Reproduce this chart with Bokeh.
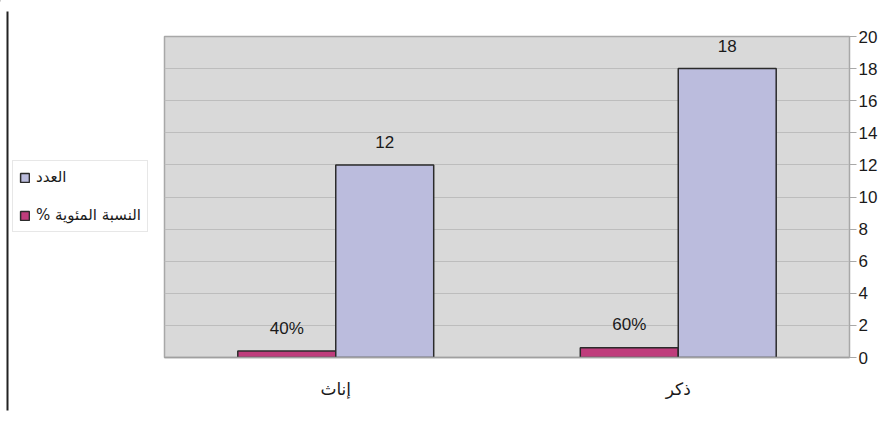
from bokeh.plotting import figure
from bokeh.layouts import row
from bokeh.models import (ColumnDataSource, Legend, LegendItem, LinearAxis,
                          FixedTicker)
from bokeh.transform import dodge
from bokeh.core.properties import value
from bokeh.embed import file_html
from bokeh.resources import INLINE

# Data
categories = ["إناث", "ذكر"]
counts = [12, 18]
percents = [40, 60]
count_name = "العدد"
percent_name = "% النسبة المئوية"
y_ticks = [0, 2, 4, 6, 8, 10, 12, 14, 16, 18, 20]

pct_values = [v / 100 for v in percents]
source = ColumnDataSource(dict(
    cat=categories,
    count=counts,
    pct=pct_values,
    count_label=[str(v) for v in counts],
    pct_label=[f"{v}%" for v in percents],
))

PINK = "#BF3D7C"
LAVENDER = "#BBBCDD"
BAR_W = 0.286
LEFT_W = 162

# ---- main chart ----
p = figure(width=892 - LEFT_W, height=424, x_range=categories, y_range=(0, 20),
           output_backend="svg", toolbar_location=None, y_axis_location=None,
           title=None)
p.frame_align = False
p.min_border_left = 2
p.min_border_right = 43
p.min_border_top = 36
p.min_border_bottom = 67
p.background_fill_color = "#D9D9D9"
p.border_fill_color = "white"
p.outline_line_color = "#A8A8A8"
p.outline_line_width = 1.5

pct_r = p.vbar(x=dodge("cat", -BAR_W / 2, range=p.x_range), top="pct", width=BAR_W,
               source=source, fill_color=PINK, line_color="#2B2B2B", line_width=1.5)
cnt_r = p.vbar(x=dodge("cat", BAR_W / 2, range=p.x_range), top="count", width=BAR_W,
               source=source, fill_color=LAVENDER, line_color="#2B2B2B", line_width=1.5)

# Value labels above the bars
p.text(x=dodge("cat", -BAR_W / 2, range=p.x_range), y="pct", text="pct_label",
       source=source, text_align="center", text_baseline="alphabetic", y_offset=-23,
       text_font=value("Liberation Sans"), text_font_size="17px", text_color="#1A1A1A")
p.text(x=dodge("cat", BAR_W / 2, range=p.x_range), y="count", text="count_label",
       source=source, text_align="center", text_baseline="alphabetic", y_offset=-23,
       text_font=value("Liberation Sans"), text_font_size="17px", text_color="#1A1A1A")

p.xgrid.grid_line_color = None
p.ygrid.grid_line_color = "#BDBDBD"
p.ygrid.grid_line_width = 1
p.ygrid.ticker = FixedTicker(ticks=y_ticks)

xa = p.xaxis[0]
xa.axis_line_color = "#A0A0A0"
xa.axis_line_width = 1.5
xa.major_tick_line_color = None
xa.minor_tick_line_color = None
xa.major_label_standoff = 15
xa.major_label_text_font = "DejaVu Sans"
xa.major_label_text_font_size = "17px"
xa.major_label_text_color = "#1A1A1A"

ya = LinearAxis(ticker=FixedTicker(ticks=y_ticks))
ya.axis_line_color = "#A8A8A8"
ya.major_tick_line_color = "#A8A8A8"
ya.major_tick_out = 7
ya.major_tick_in = 0
ya.minor_tick_line_color = None
ya.major_label_standoff = 2
ya.major_label_text_font = "Liberation Sans"
ya.major_label_text_font_size = "17px"
ya.major_label_text_color = "#1A1A1A"
p.add_layout(ya, "right")

# ---- left strip: vertical rule and legend ----
side = figure(width=LEFT_W, height=424, x_range=(0, LEFT_W), y_range=(424, 0),
              output_backend="svg", toolbar_location=None,
              x_axis_location=None, y_axis_location=None, title=None)
side.frame_align = False
side.min_border = 0
side.min_border_left = 0
side.min_border_right = 0
side.min_border_top = 0
side.min_border_bottom = 0
side.outline_line_color = None
side.grid.grid_line_color = None
side.background_fill_color = "white"
side.border_fill_color = "white"
side.segment(x0=[7], y0=[11], x1=[7], y1=[410], line_color="#222222", line_width=2)

# legend keys (off-screen swatches that only feed the legend)
key_cnt = side.vbar(x=[-1000], top=[0], width=1,
                    fill_color=LAVENDER, line_color="#2B2B2B", line_width=1.5)
key_pct = side.vbar(x=[-1000], top=[0], width=1,
                    fill_color=PINK, line_color="#2B2B2B", line_width=1.5)

legend = Legend(items=[LegendItem(label=count_name, renderers=[key_cnt]),
                       LegendItem(label=percent_name, renderers=[key_pct])],
                location=(12, 424 - 232), orientation="vertical")
legend.label_text_font = "DejaVu Sans"
legend.label_text_font_size = "15px"
legend.label_text_color = "#1A1A1A"
legend.glyph_width = 11
legend.glyph_height = 11
legend.label_height = 20
legend.spacing = 18
legend.padding = 6
legend.margin = 0
legend.label_standoff = 6
legend.border_line_color = "#D0D0D0"
legend.border_line_width = 1
legend.background_fill_color = "white"
legend.background_fill_alpha = 1
side.add_layout(legend, "center")

layout = row(side, p)
open("out.html", "w").write(file_html(layout, INLINE))
